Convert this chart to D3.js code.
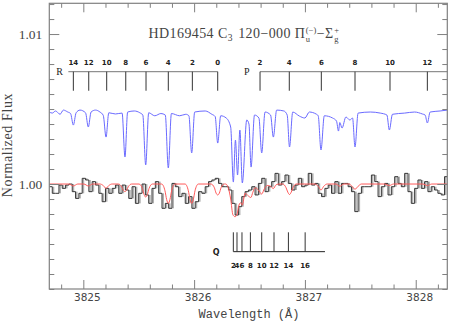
<!DOCTYPE html>
<html>
<head>
<meta charset="utf-8">
<script src="https://cdn.jsdelivr.net/npm/d3@7"></script>
<style>
  body { margin: 0; background: #fff; }
  svg { display: block; }
  text { white-space: pre; }
</style>
</head>
<body>
<div id="chart"></div>
<script>
const width = 458
const height = 330
const margin = { top: 3.3, right: 10.7, bottom: 41, left: 49.3 }
const W = width - margin.left - margin.right
const H = height - margin.top - margin.bottom

// observed spectrum: bins of 0.03 A starting at lamStart
const lamStart = 3824.69
const binWidth = 0.03
const obsFlux = [
  0.99982, 0.99938, 0.99938, 0.99993, 0.99971, 0.99993, 1.00000, 0.99949, 0.99904, 0.99938,
  1.00038, 1.00027, 0.99949, 1.00016, 0.99993, 0.99938, 0.99882, 0.99971, 0.99938, 0.99971,
  0.99993, 0.99938, 0.99993, 0.99960, 0.99904, 0.99982, 0.99871, 0.99938, 1.00000, 0.99927,
  0.99871, 0.99971, 1.00016, 0.99938, 0.99838, 0.99871, 0.99838, 1.00004, 0.99982, 0.99916,
  0.99938, 0.99871, 0.99916, 0.99838, 0.99882, 0.99949, 0.99938, 0.99982, 1.00016, 1.00027,
  1.00038, 1.00004, 0.99982, 0.99982, 0.99960, 0.99871, 0.99793, 0.99849, 0.99916, 0.99949,
  0.99960, 0.99982, 0.99927, 1.00004, 1.00038, 0.99949, 0.99982, 1.00016, 1.00071, 0.99993,
  1.00016, 1.00060, 1.00004, 0.99960, 0.99993, 1.00038, 0.99982, 0.99993, 1.00071, 0.99993,
  1.00004, 0.99938, 0.99916, 0.99971, 0.99993, 0.99938, 1.00016, 0.99938, 1.00004, 1.00004,
  0.99982, 0.99949, 0.99816, 0.99938, 0.99982, 0.99982, 0.99982, 1.00060, 1.00016, 0.99916,
  0.99982, 1.00004, 0.99927, 0.99982, 1.00049, 1.00004, 0.99982, 1.00071, 0.99949, 0.99871,
  0.99971, 1.00027, 0.99971, 1.00016, 0.99949, 0.99982, 0.99960, 0.99938, 0.99927, 1.00049
]

// model spectrum (blue, offset above the data): [wavelength, flux]
const modelBlue = [
  [3824.693, 1.00480], [3824.72, 1.00473], [3824.75, 1.00487], [3824.79, 1.00465], [3824.82, 1.00493],
  [3824.86, 1.00480], [3824.885, 1.00470], [3824.910, 1.00393], [3824.935, 1.00475], [3824.97, 1.00493],
  [3825.02, 1.00475], [3825.045, 1.00380], [3825.07, 1.00480], [3825.11, 1.00493], [3825.15, 1.00480],
  [3825.18, 1.00458], [3825.205, 1.00313], [3825.23, 1.00475], [3825.29, 1.00467], [3825.35, 1.00473],
  [3825.376, 1.00180], [3825.40, 1.00480], [3825.46, 1.00487], [3825.51, 1.00475], [3825.537, 1.00460],
  [3825.563, 1.00127], [3825.59, 1.00475], [3825.645, 1.00455], [3825.70, 1.00470], [3825.74, 1.00460],
  [3825.767, 1.00107], [3825.795, 1.00470], [3825.87, 1.00455], [3825.925, 1.00465], [3825.953, 1.00455],
  [3825.978, 1.00207], [3826.005, 1.00480], [3826.10, 1.00487], [3826.16, 1.00465], [3826.19, 1.00450],
  [3826.213, 1.00273], [3826.24, 1.00455], [3826.29, 1.00440], [3826.33, 1.00380], [3826.354, 1.00013],
  [3826.373, 1.00293], [3826.392, 1.00060], [3826.413, 1.00360], [3826.435, 1.00007], [3826.475, 1.00427],
  [3826.495, 1.00400], [3826.514, 1.00113], [3826.545, 1.00460], [3826.585, 1.00440], [3826.610, 1.00207],
  [3826.64, 1.00480], [3826.69, 1.00460], [3826.715, 1.00313], [3826.745, 1.00493], [3826.81, 1.00487],
  [3826.84, 1.00460], [3826.861, 1.00247], [3826.89, 1.00480], [3826.95, 1.00453], [3827.00, 1.00440],
  [3827.04, 1.00480], [3827.10, 1.00467], [3827.12, 1.00455], [3827.145, 1.00227], [3827.175, 1.00455],
  [3827.25, 1.00440], [3827.285, 1.00420], [3827.303, 1.00353], [3827.315, 1.00410], [3827.335, 1.00373],
  [3827.37, 1.00447], [3827.405, 1.00427], [3827.43, 1.00440], [3827.452, 1.00247], [3827.48, 1.00473],
  [3827.59, 1.00480], [3827.68, 1.00473], [3827.74, 1.00460], [3827.762, 1.00360], [3827.79, 1.00465],
  [3827.90, 1.00473], [3827.99, 1.00480], [3828.06, 1.00467], [3828.085, 1.00460], [3828.105, 1.00407],
  [3828.13, 1.00480], [3828.22, 1.00487], [3828.285, 1.00493]
]

// fitted model (red): [wavelength, flux]
const modelRed = [
  [3824.693, 1], [3824.87, 1], [3824.910, 0.99987], [3824.95, 1],
  [3825.005, 1], [3825.045, 0.99987], [3825.085, 1],
  [3825.15, 1], [3825.18, 0.9999], [3825.205, 0.99971], [3825.23, 0.9999], [3825.26, 1],
  [3825.316, 1], [3825.346, 0.99982], [3825.361, 0.99959], [3825.376, 0.99949], [3825.391, 0.99959], [3825.406, 0.99982], [3825.436, 1],
  [3825.503, 1], [3825.533, 0.9997], [3825.548, 0.9993], [3825.563, 0.99913], [3825.578, 0.9993], [3825.593, 0.9997], [3825.623, 1],
  [3825.707, 1], [3825.737, 0.99955], [3825.752, 0.99897], [3825.767, 0.99871], [3825.782, 0.99897], [3825.797, 0.99955], [3825.827, 1],
  [3825.918, 1], [3825.948, 0.99955], [3825.963, 0.99897], [3825.978, 0.99871], [3825.993, 0.99897], [3826.008, 0.99955], [3826.038, 1],
  [3826.153, 1], [3826.183, 0.99975], [3826.198, 0.9994], [3826.213, 0.99927], [3826.228, 0.9994], [3826.243, 0.99975], [3826.273, 1],
  [3826.285, 1], [3826.31, 0.9997], [3826.33, 0.9990], [3826.350, 0.99795], [3826.37, 0.99782], [3826.388, 0.99800],
  [3826.405, 0.9986], [3826.42, 0.99875], [3826.435, 0.9986], [3826.46, 0.99938], [3826.49, 0.99920], [3826.512, 0.99910],
  [3826.53, 0.99945], [3826.55, 0.99975], [3826.58, 0.9996], [3826.61, 0.99933], [3826.635, 0.9997], [3826.66, 0.9999],
  [3826.69, 0.99985], [3826.715, 0.9997], [3826.74, 0.99995], [3826.77, 1],
  [3826.80, 1], [3826.83, 0.99975], [3826.846, 0.99945], [3826.861, 0.9993], [3826.876, 0.99945], [3826.892, 0.99975], [3826.92, 1],
  [3827.09, 1], [3827.12, 0.99985], [3827.145, 0.9996], [3827.17, 0.99985], [3827.20, 1],
  [3827.28, 1], [3827.315, 0.99985], [3827.35, 1],
  [3827.40, 1], [3827.425, 0.99985], [3827.452, 0.99965], [3827.48, 0.99985], [3827.51, 1],
  [3827.72, 1], [3827.762, 0.9999], [3827.80, 1],
  [3828.065, 1], [3828.105, 0.9999], [3828.145, 1], [3828.285, 1]
]

// line identifications
const rLines = [[14, 3824.910], [12, 3825.049], [10, 3825.211], [8, 3825.383], [6, 3825.566], [4, 3825.767], [2, 3825.984], [0, 3826.213]]
const pLines = [[2, 3826.595], [4, 3826.859], [6, 3827.148], [8, 3827.452], [10, 3827.768], [12, 3828.105]]
const qLines = [[2, 3826.354], [4, 3826.387], [6, 3826.432], [8, 3826.508], [10, 3826.610], [12, 3826.721], [14, 3826.851], [16, 3827.002]]
const xTickLabels = [3825, 3826, 3827, 3828]
const yTickLabels = [1.00, 1.01]

const x = d3.scaleLinear().domain([3824.693, 3828.285]).range([0, W])
const y = d3.scaleLinear().domain([0.993, 1.01205]).range([H, 0])

const svg = d3.select("#chart").append("svg")
  .attr("width", width).attr("height", height)

svg.append("defs").append("clipPath").attr("id", "clip")
  .append("rect").attr("width", W).attr("height", H)

const g = svg.append("g").attr("transform", `translate(${margin.left},${margin.top})`)
const plot = g.append("g").attr("clip-path", "url(#clip)")

// blue model
plot.append("path")
  .datum(modelBlue)
  .attr("fill", "none")
  .attr("stroke", "#6a6aff")
  .attr("stroke-width", 1)
  .attr("d", d3.line().x(d => x(d[0])).y(d => y(d[1])).curve(d3.curveMonotoneX))

// observed histogram
const steps = obsFlux.map((v, i) => [lamStart + i * binWidth, v])
steps.push([lamStart + obsFlux.length * binWidth, obsFlux[obsFlux.length - 1]])

// grey riser blocks (second exposure offset)
const risers = obsFlux.slice(1).map((v, i) => ({ lam: lamStart + (i + 1) * binWidth, a: obsFlux[i], b: v }))
plot.append("g").selectAll("rect")
  .data(risers)
  .join("rect")
  .attr("x", d => x(d.lam) + 0.5)
  .attr("width", 1.5)
  .attr("y", d => y(Math.max(d.a, d.b)))
  .attr("height", d => Math.abs(y(d.a) - y(d.b)))
  .attr("fill", "#b0b0b0")

plot.append("path")
  .datum(steps)
  .attr("fill", "none")
  .attr("stroke", "#222")
  .attr("stroke-width", 0.9)
  .attr("d", d3.line().x(d => x(d[0])).y(d => y(d[1])).curve(d3.curveStepAfter))

// red fit
plot.append("path")
  .datum(modelRed)
  .attr("fill", "none")
  .attr("stroke", "#ff5a5a")
  .attr("stroke-width", 1)
  .attr("d", d3.line().x(d => x(d[0])).y(d => y(d[1])).curve(d3.curveMonotoneX))

// axes frame
const axisColor = "#808080"
g.append("rect").attr("width", W).attr("height", H)
  .attr("fill", "none").attr("stroke", axisColor).attr("stroke-width", 1.2)

const xMinor = d3.range(3824.8, 3828.3, 0.2).map(v => +v.toFixed(1)).filter(v => !xTickLabels.includes(v))
const yMinor = d3.range(993, 1013, 1).map(v => v / 1000).filter(v => !yTickLabels.includes(v))

function styleAxis(sel) {
  sel.select(".domain").remove()
  sel.selectAll(".tick line").attr("stroke", axisColor)
}

g.append("g").attr("transform", `translate(0,${H})`)
  .call(d3.axisBottom(x).tickValues(xTickLabels).tickSizeInner(-9).tickSizeOuter(0).tickFormat(d3.format("d")))
  .call(styleAxis)
  .call(s => s.selectAll("text").attr("y", 12).attr("dy", 0).attr("dx", 3.5)
    .attr("font-family", "'DejaVu Sans', sans-serif").attr("font-size", 10.5).attr("fill", "#444"))
g.append("g").attr("transform", `translate(0,${H})`)
  .call(d3.axisBottom(x).tickValues(xMinor).tickSizeInner(-4.5).tickSizeOuter(0).tickFormat(""))
  .call(styleAxis)
g.append("g")
  .call(d3.axisTop(x).tickValues(xTickLabels).tickSizeInner(-9).tickSizeOuter(0).tickFormat(""))
  .call(styleAxis)
g.append("g")
  .call(d3.axisTop(x).tickValues(xMinor).tickSizeInner(-4.5).tickSizeOuter(0).tickFormat(""))
  .call(styleAxis)

g.append("g")
  .call(d3.axisLeft(y).tickValues(yTickLabels).tickSizeInner(-10).tickSizeOuter(0).tickFormat(d3.format(".2f")))
  .call(styleAxis)
  .call(s => s.selectAll("text").attr("x", -7).attr("dy", "0.35em")
    .attr("font-family", "'Liberation Serif', serif").attr("font-size", 13.5).attr("fill", "#444"))
g.append("g")
  .call(d3.axisLeft(y).tickValues(yMinor).tickSizeInner(-5).tickSizeOuter(0).tickFormat(""))
  .call(styleAxis)
g.append("g").attr("transform", `translate(${W},0)`)
  .call(d3.axisRight(y).tickValues(yTickLabels).tickSizeInner(-10).tickSizeOuter(0).tickFormat(""))
  .call(styleAxis)
g.append("g").attr("transform", `translate(${W},0)`)
  .call(d3.axisRight(y).tickValues(yMinor).tickSizeInner(-5).tickSizeOuter(0).tickFormat(""))
  .call(styleAxis)

// axis titles
svg.append("text")
  .attr("x", 249).attr("y", 318)
  .attr("text-anchor", "middle")
  .attr("font-family", "'Liberation Mono', monospace")
  .attr("font-size", 12)
  .attr("fill", "#444")
  .text("Wavelength (Å)")

svg.append("text")
  .attr("transform", "translate(11.5,145) rotate(-90)")
  .attr("text-anchor", "middle")
  .attr("font-family", "'Liberation Serif', serif")
  .attr("font-size", 14)
  .attr("letter-spacing", 0.6)
  .attr("fill", "#444")
  .text("Normalized Flux")

// title with stacked super/subscripts
const title = svg.append("g").attr("fill", "#444")
  .attr("font-family", "'Liberation Serif', serif")
const titleParts = [
  { t: "HD169454 C", size: 14 },
  { t: "3", size: 9.5, dy: 3, sub: true },
  { t: " 120\u2212000 \u03a0", size: 14 },
  { sup: "(\u2212)", sub: "u" },
  { t: "\u2212\u03a3", size: 14 },
  { sup: "+", sub: "g" }
]
let cx = 0
const baseY = 38
titleParts.forEach(p => {
  if (p.t !== undefined) {
    const el = title.append("text").attr("x", cx).attr("y", baseY + (p.dy || 0))
      .attr("font-size", p.size).attr("letter-spacing", 0.4).text(p.t)
    cx += el.node().getComputedTextLength() + (p.sub ? 1.5 : 0)
  } else {
    const a = title.append("text").attr("x", cx + 0.5).attr("y", baseY - 5.5).attr("font-size", 8.5).text(p.sup)
    const b = title.append("text").attr("x", cx + 0.5).attr("y", baseY + 3.5).attr("font-size", 8.5).text(p.sub)
    cx += Math.max(a.node().getComputedTextLength(), b.node().getComputedTextLength()) + 1
  }
})
title.attr("transform", `translate(${244 - cx / 2},0)`)

// line identification combs
const ann = g.append("g").attr("stroke", "#333").attr("fill", "#222")
const combTop = y(1.00749)
const combBot = y(1.00622)
const labelFont = "'DejaVu Sans', sans-serif"

function comb(lines, x0, x1, letter, letterX) {
  ann.append("line").attr("x1", x(x0)).attr("x2", x(x1)).attr("y1", combTop).attr("y2", combTop).attr("stroke", "#777")
  ann.append("g").selectAll("line").data(lines).join("line")
    .attr("x1", d => x(d[1])).attr("x2", d => x(d[1]))
    .attr("y1", combTop).attr("y2", combBot)
  ann.append("g").selectAll("text").data(lines).join("text")
    .attr("x", d => x(d[1])).attr("y", combTop - 6.5)
    .attr("text-anchor", "middle").attr("stroke", "none")
    .attr("font-family", labelFont).attr("font-size", 7).attr("font-weight", "bold")
    .text(d => d[0])
  ann.append("text").attr("x", letterX).attr("y", combTop + 3.5)
    .attr("stroke", "none").attr("font-family", "'Liberation Serif', serif").attr("font-size", 10)
    .attr("text-anchor", "middle").text(letter)
}
comb(rLines, 3824.865, 3826.213, "R", x(3824.786))
comb(pLines, 3826.595, 3828.285, "P", x(3826.476))

const qBase = y(0.99549)
const qTop = y(0.99678)
ann.append("line").attr("x1", x(3826.354)).attr("x2", x(3827.181))
  .attr("y1", qBase).attr("y2", qBase).attr("stroke", "#222")
ann.append("g").selectAll("line").data(qLines).join("line")
  .attr("x1", d => x(d[1])).attr("x2", d => x(d[1]))
  .attr("y1", qBase).attr("y2", qTop)
ann.append("g").selectAll("text").data(qLines).join("text")
  .attr("x", d => x(d[1])).attr("y", qBase + 16)
  .attr("text-anchor", "middle").attr("stroke", "none")
  .attr("font-family", labelFont).attr("font-size", 7).attr("font-weight", "bold")
  .text(d => d[0])
ann.append("text").attr("x", x(3826.2)).attr("y", qBase + 3.5)
  .attr("stroke", "none").attr("font-family", labelFont).attr("font-size", 8).attr("font-weight", "bold")
  .attr("text-anchor", "middle").text("Q")
</script>
</body>
</html>
